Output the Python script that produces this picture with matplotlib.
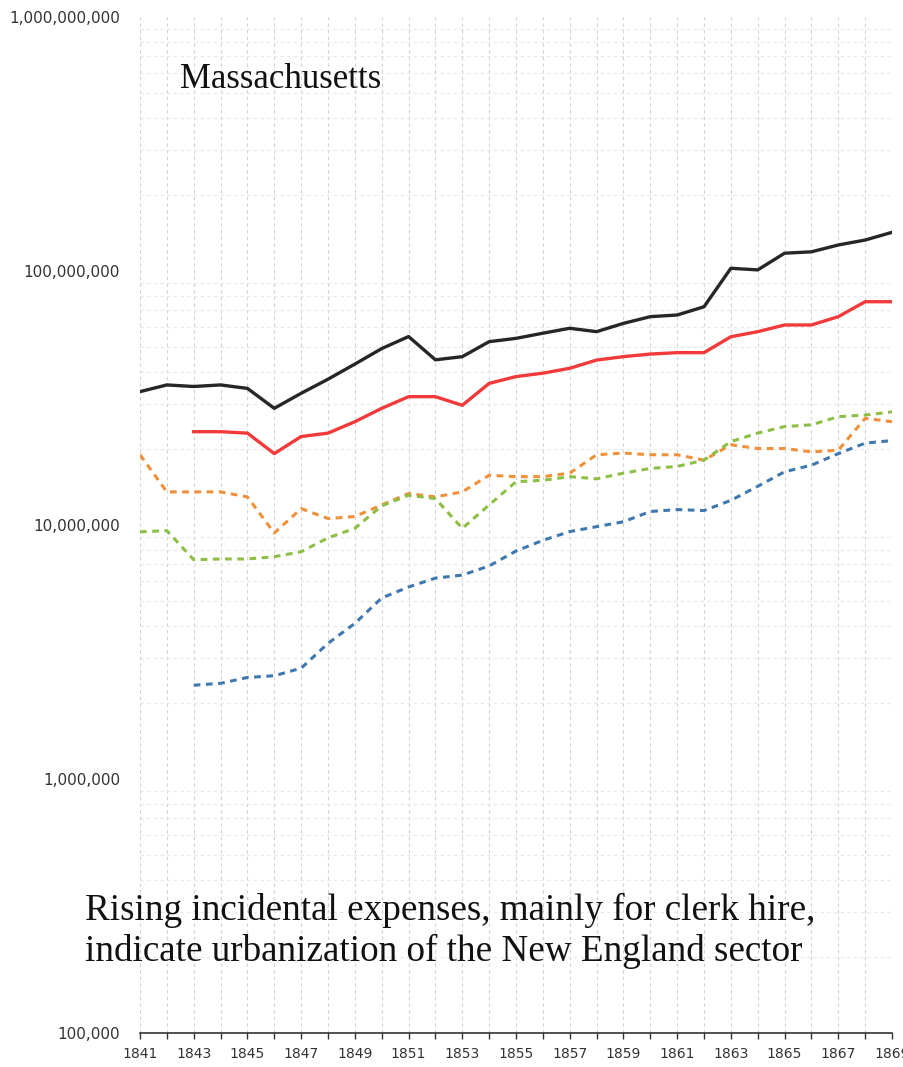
import matplotlib
matplotlib.use("Agg")
import matplotlib.pyplot as plt
import numpy as np
from matplotlib.ticker import NullFormatter, LogLocator

years = list(range(1841, 1870))

total = [33.5e6, 35.6e6, 35.1e6, 35.6e6, 34.5e6, 28.8e6, 33.0e6, 37.5e6, 43.0e6, 49.5e6,
         55.2e6, 44.7e6, 46.0e6, 52.7e6, 54.3e6, 56.9e6, 59.5e6, 57.7e6, 62.2e6, 66.1e6,
         67.1e6, 72.3e6, 102.5e6, 101.0e6, 117.5e6, 119.0e6, 126.6e6, 132.4e6, 142.0e6]

red_years = list(range(1843, 1870))
red = [23.3e6, 23.3e6, 23.0e6, 19.1e6, 22.3e6, 23.0e6, 25.5e6, 28.8e6, 32.0e6, 32.0e6,
       29.6e6, 36.1e6, 38.4e6, 39.6e6, 41.4e6, 44.6e6, 46.0e6, 47.1e6, 47.7e6, 47.7e6,
       55.1e6, 57.7e6, 61.3e6, 61.3e6, 66.1e6, 75.7e6, 75.7e6]

orange = [18.9e6, 13.5e6, 13.5e6, 13.5e6, 12.9e6, 9.3e6, 11.6e6, 10.6e6, 10.8e6, 12.0e6,
          13.3e6, 12.9e6, 13.5e6, 15.7e6, 15.5e6, 15.5e6, 16.0e6, 18.9e6, 19.2e6, 18.9e6,
          18.9e6, 18.0e6, 20.7e6, 20.0e6, 20.0e6, 19.4e6, 19.7e6, 26.3e6, 25.5e6]

green = [9.4e6, 9.5e6, 7.3e6, 7.35e6, 7.35e6, 7.5e6, 7.85e6, 8.9e6, 9.7e6, 11.9e6,
         13.1e6, 12.7e6, 9.7e6, 12.0e6, 14.8e6, 15.0e6, 15.5e6, 15.2e6, 16.0e6, 16.7e6,
         17.0e6, 18.0e6, 21.3e6, 23.0e6, 24.4e6, 24.8e6, 26.7e6, 27.1e6, 27.9e6]

blue_years = list(range(1843, 1870))
blue = [2.34e6, 2.38e6, 2.51e6, 2.55e6, 2.73e6, 3.42e6, 4.1e6, 5.16e6, 5.7e6, 6.18e6,
        6.35e6, 6.9e6, 7.9e6, 8.7e6, 9.42e6, 9.85e6, 10.3e6, 11.3e6, 11.5e6, 11.4e6,
        12.5e6, 14.2e6, 16.2e6, 17.2e6, 19.1e6, 21.0e6, 21.5e6]

ytick_vals = [1e5, 1e6, 1e7, 1e8, 1e9]
ytick_labels = ["100,000", "1,000,000", "10,000,000", "100,000,000", "1,000,000,000"]
xtick_labels_years = list(range(1841, 1870, 2))

title = "Massachusetts"
note = "Rising incidental expenses, mainly for clerk hire,\nindicate urbanization of the New England sector"

fig = plt.figure(figsize=(9.04, 10.67), dpi=100)
ax = fig.add_axes([140/904, 1 - 1033/1067, (892-140)/904, (1033-17)/1067])
ax.set_yscale("log")
ax.set_ylim(1e5, 1e9)
ax.set_xlim(1841, 1869)

# grid
ax.set_xticks(years, minor=False)
ax.xaxis.grid(True, which="major", linestyle=(0, (3, 3)), color="#d2d2d2", linewidth=0.8)
ax.yaxis.set_minor_locator(LogLocator(base=10, subs=np.arange(2, 10)))
ax.yaxis.grid(True, which="minor", linestyle=(0, (3, 3)), color="#e8e8e8", linewidth=0.8)
ax.yaxis.set_minor_formatter(NullFormatter())
ax.set_axisbelow(True)

dash = (0, (2.2, 1.8))
ax.plot(years, total, color="#262626", lw=2.4)
ax.plot(red_years, red, color="#f23a3a", lw=2.4)
ax.plot(years, orange, color="#f0903a", lw=2.2, linestyle=dash)
ax.plot(years, green, color="#8dbf45", lw=2.2, linestyle=dash)
ax.plot(blue_years, blue, color="#3f78b0", lw=2.2, linestyle=dash)

# ticks
ax.set_yticks(ytick_vals)
ax.set_yticklabels(ytick_labels)
ax.tick_params(axis="y", which="both", length=0, pad=14.4, labelsize=11, labelcolor="#333333")
ax.set_xticklabels([str(y) if y in xtick_labels_years else "" for y in years])
ax.tick_params(axis="x", which="major", length=4, width=1, color="#333333",
               labelsize=10, labelcolor="#333333", pad=6)
for s in ["top", "right", "left"]:
    ax.spines[s].set_visible(False)
ax.spines["bottom"].set_color("#333333")
ax.spines["bottom"].set_linewidth(1.2)
ax.spines["bottom"].set_bounds(1841, 1869)

fig.text(180/904, 1 - 80/1067, title, family="Liberation Serif", fontsize=25,
         va="center", ha="left", color="#111111")
fig.text(85/904, 1 - 931/1067, note, family="Liberation Serif", fontsize=26.7,
         va="center", ha="left", color="#111111", linespacing=1.22)

fig.savefig("out.png", dpi=100)
